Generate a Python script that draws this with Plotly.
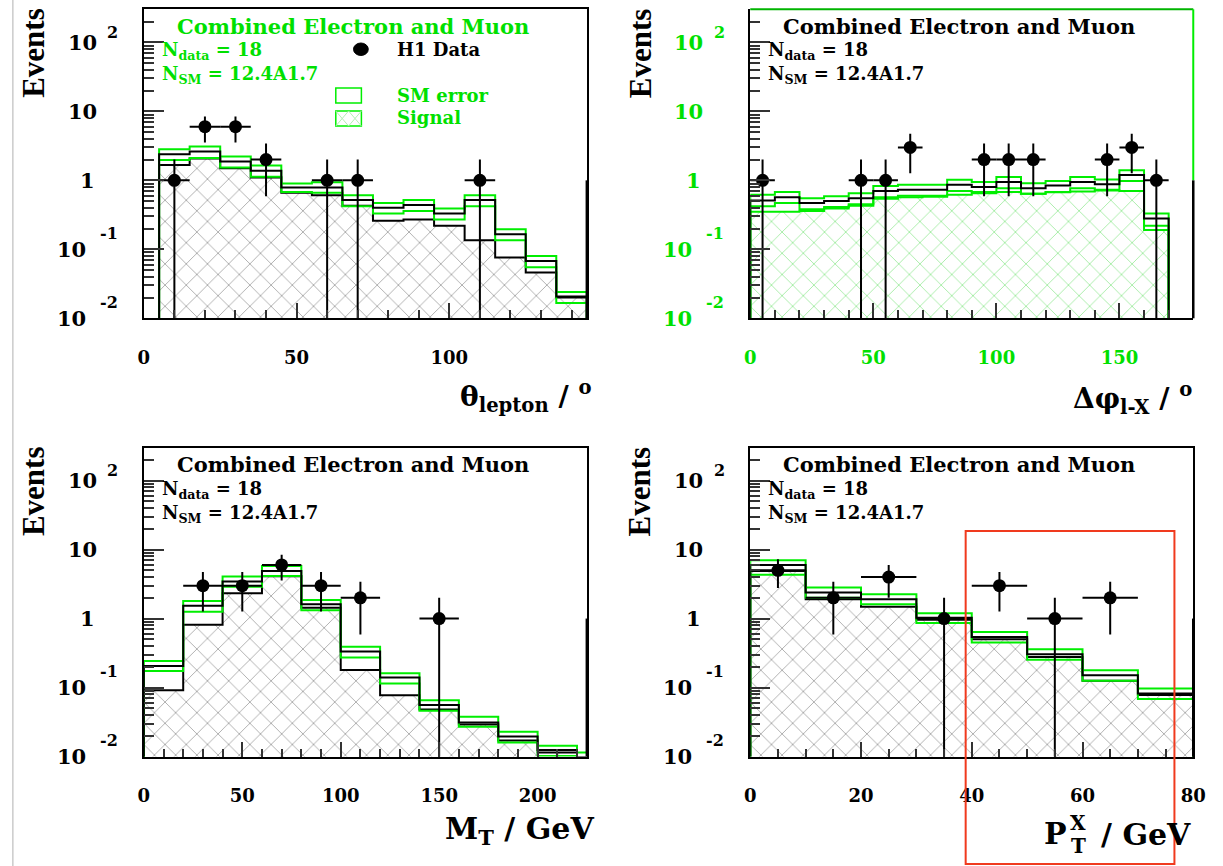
import numpy as np
import plotly.graph_objects as go

W, H = 1223, 866
YMIN, YMAX = -2.0, 2.48
FLOOR = 10 ** (YMIN - 1)

# ---------------- data ----------------
# theta_lepton panel
theta_edges = [5, 15, 25, 35, 45, 55, 65, 75, 85, 95, 105, 115, 125, 135, 145]
theta_sm = [2.39, 2.61, 1.87, 1.38, 0.79, 0.79, 0.52, 0.40, 0.44, 0.33, 0.52, 0.165, 0.068, 0.0207]
theta_up = [2.83, 3.09, 2.21, 1.64, 0.90, 0.94, 0.61, 0.47, 0.52, 0.39, 0.61, 0.195, 0.080, 0.024]
theta_dn = [1.98, 2.11, 1.53, 1.13, 0.68, 0.66, 0.42, 0.33, 0.36, 0.27, 0.42, 0.135, 0.055, 0.0167]
theta_sig = [1.67, 2.07, 1.50, 1.10, 0.66, 0.61, 0.43, 0.26, 0.27, 0.22, 0.135, 0.076, 0.046, 0.020]
theta_data_x = [10, 20, 30, 40, 60, 70, 110]
theta_data_n = [1, 6, 6, 2, 1, 1, 1]

# delta phi panel
dphi_edges = [0, 10, 20, 30, 40, 50, 60, 70, 80, 90, 100, 110, 120, 130, 140, 150, 160, 170, 180]
dphi_sm = [0.51, 0.57, 0.47, 0.50, 0.55, 0.70, 0.73, 0.73, 0.86, 0.80, 0.95, 0.77, 0.84, 0.95, 0.88, 1.20, 0.28, 0]
dphi_up = [0.62, 0.68, 0.55, 0.59, 0.65, 0.83, 0.86, 0.86, 1.02, 0.95, 1.12, 0.91, 0.98, 1.12, 1.03, 1.40, 0.33, 0]
dphi_dn = [0.42, 0.47, 0.38, 0.41, 0.45, 0.57, 0.60, 0.60, 0.70, 0.68, 0.77, 0.64, 0.68, 0.77, 0.73, 0.98, 0.22, 0]
dphi_sig = [0.35, 0.35, 0.36, 0.39, 0.43, 0.54, 0.57, 0.58, 0.62, 0.65, 0.68, 0.64, 0.67, 0.69, 0.71, 0.70, 0.19, 0]
dphi_data_x = [5, 45, 55, 65, 95, 105, 115, 145, 155, 165]
dphi_data_n = [1, 1, 1, 3, 2, 2, 2, 2, 3, 1]

# M_T panel
mt_edges = [0, 20, 40, 60, 80, 100, 120, 140, 160, 180, 200, 220, 240]
mt_sm = [0.206, 1.53, 3.44, 4.91, 1.61, 0.333, 0.140, 0.056, 0.031, 0.0195, 0.0124, 0.0098]
mt_up = [0.243, 1.80, 4.06, 5.80, 1.86, 0.389, 0.161, 0.0655, 0.0376, 0.0228, 0.0143, 0.0114]
mt_dn = [0.174, 1.26, 2.88, 4.15, 1.32, 0.272, 0.114, 0.046, 0.027, 0.016, 0.0102, 0.0085]
mt_sig = [0.091, 0.81, 2.33, 4.10, 1.44, 0.180, 0.077, 0.048, 0.029, 0.017, 0.0114, 0.009]
mt_data_x = [30, 50, 70, 90, 110, 150]
mt_data_n = [3, 3, 6, 3, 2, 1]

# P_T^X panel
ptx_edges = [0, 10, 20, 30, 40, 50, 60, 70, 80]
ptx_sm = [6.0, 2.38, 1.91, 1.03, 0.54, 0.304, 0.151, 0.082]
ptx_up = [7.0, 2.81, 2.25, 1.19, 0.64, 0.36, 0.178, 0.097]
ptx_dn = [4.3, 2.01, 1.61, 0.86, 0.45, 0.252, 0.125, 0.068]
ptx_sig = [4.9, 1.91, 1.48, 0.96, 0.50, 0.278, 0.125, 0.078]
ptx_data_x = [5, 15, 25, 35, 45, 55, 65]
ptx_data_n = [5, 2, 4, 1, 3, 1, 2]

title_text = "Combined Electron and Muon"
ndata_text = "N<sub>data</sub> = 18"
nsm_text = "N<sub>SM</sub> = 12.4A1.7"
ytitle = "Events"
y_decades = [-2, -1, 0, 1, 2]

# ---------------- style ----------------
GREEN = "#00ee00"
GREEN_TXT = "#00e000"
FONT = "DejaVu Serif"

panels = [
    dict(edges=theta_edges, sm=theta_sm, up=theta_up, dn=theta_dn, sig=theta_sig,
         dx=theta_data_x, dn_=theta_data_n, xr=[0, 145], dt=50, mdt=10,
         frame=(140, 590, 9.3, 318.3), txtcol=GREEN_TXT, labcol="black",
         hatch="#9a9a9a", sigline="black",
         xtitle="θ<sub>lepton</sub> / <sup>o</sup>", xt_pos=(596, 396), xt_size=28),
    dict(edges=dphi_edges, sm=dphi_sm, up=dphi_up, dn=dphi_dn, sig=dphi_sig,
         dx=dphi_data_x, dn_=dphi_data_n, xr=[0, 180], dt=50, mdt=10,
         frame=(756, 1206, 9.3, 318.3), txtcol="black", labcol=GREEN_TXT,
         hatch="#93e893", sigline=GREEN,
         xtitle="Δφ<sub>l-X</sub> / <sup>o</sup>", xt_pos=(1207, 398), xt_size=28),
    dict(edges=mt_edges, sm=mt_sm, up=mt_up, dn=mt_dn, sig=mt_sig,
         dx=mt_data_x, dn_=mt_data_n, xr=[0, 225], dt=50, mdt=10,
         frame=(140, 590, 447.5, 756.5), txtcol="black", labcol="black",
         hatch="#9a9a9a", sigline="black",
         xtitle="M<sub>T</sub> / GeV", xt_pos=(599, 830), xt_size=30),
    dict(edges=ptx_edges, sm=ptx_sm, up=ptx_up, dn=ptx_dn, sig=ptx_sig,
         dx=ptx_data_x, dn_=ptx_data_n, xr=[0, 80], dt=20, mdt=5,
         frame=(756, 1206, 447.5, 756.5), txtcol="black", labcol="black",
         hatch="#9a9a9a", sigline="black",
         xtitle=None, xt_pos=(1206, 834), xt_size=30),
]


def fx(px):
    return px / W


def fy(py):
    return 1 - py / H


def step_xy(edges, vals):
    v = [max(float(a), FLOOR) for a in vals]
    xs = [edges[0]] + list(edges[:-1]) + [edges[-1]]
    ys = [FLOOR] + v + [FLOOR]
    return xs, ys


fig = go.Figure()
annotations = []
shapes = []


def ann(text, px, py, size, color="black", xanchor="center", yanchor="middle",
        family=FONT, angle=0, weight="bold"):
    annotations.append(dict(text=text, x=fx(px), y=fy(py), xref="paper", yref="paper",
                            xanchor=xanchor, yanchor=yanchor, showarrow=False,
                            textangle=angle,
                            font=dict(family=family, size=size, color=color, weight=weight)))


layout_axes = {}
for i, p in enumerate(panels, start=1):
    L, R, T, B = p["frame"]
    xs_name = "x" if i == 1 else f"x{i}"
    ys_name = "y" if i == 1 else f"y{i}"
    xkey = "xaxis" if i == 1 else f"xaxis{i}"
    ykey = "yaxis" if i == 1 else f"yaxis{i}"
    edges = np.array(p["edges"], dtype=float)
    centers = (edges[:-1] + edges[1:]) / 2
    widths = np.diff(edges)

    # hatched signal
    fig.add_trace(go.Bar(x=centers, y=p["sig"], width=widths, xaxis=xs_name, yaxis=ys_name,
                         marker=dict(color="white", line=dict(width=0),
                                     pattern=dict(shape="x", size=15, solidity=0.1,
                                                  fgcolor=p["hatch"], bgcolor="white",
                                                  fillmode="replace")),
                         showlegend=False, hoverinfo="skip"))
    for vals, col in [(p["sig"], p["sigline"]), (p["up"], GREEN), (p["dn"], GREEN), (p["sm"], "black")]:
        sx, sy = step_xy(p["edges"], vals)
        fig.add_trace(go.Scatter(x=sx, y=sy, mode="lines", line=dict(color=col, width=2, shape="hv"),
                                 xaxis=xs_name, yaxis=ys_name, showlegend=False, hoverinfo="skip"))
    n = np.array(p["dn_"], dtype=float)
    half = np.full(len(n), widths[0] / 2)
    fig.add_trace(go.Scatter(x=p["dx"], y=n, mode="markers", xaxis=xs_name, yaxis=ys_name,
                             marker=dict(color="black", size=13),
                             error_y=dict(type="data", array=np.sqrt(n), arrayminus=np.sqrt(n),
                                          thickness=2, width=0, color="black"),
                             error_x=dict(type="data", array=half, arrayminus=half,
                                          thickness=2, width=0, color="black"),
                             showlegend=False, hoverinfo="skip"))

    layout_axes[xkey] = dict(domain=[fx(L), fx(R)], range=p["xr"], anchor=ys_name,
                             showline=True, linecolor="black", linewidth=2, mirror=(i != 2),
                             ticks="inside", ticklen=15, tickwidth=1.5, tickcolor="#333",
                             tick0=0, dtick=p["dt"],
                             minor=dict(ticks="inside", ticklen=8, dtick=p["mdt"], tick0=0,
                                        tickcolor="#333", tickwidth=1.5, showgrid=False),
                             showgrid=False, zeroline=False, ticklabelstandoff=22,
                             tickfont=dict(family=FONT, size=18, color=p["labcol"], weight="bold"))
    layout_axes[ykey] = dict(domain=[fy(B), fy(T)], type="log", range=[YMIN, YMAX], anchor=xs_name,
                             showline=True, linecolor="black", linewidth=2, mirror=(i != 2),
                             ticks="inside", ticklen=20, tickwidth=1.5, tickcolor="#333", dtick=1,
                             minor=dict(ticks="inside", ticklen=10, dtick="D1", tickcolor="#333",
                                        tickwidth=1.5, showgrid=False),
                             showgrid=False, zeroline=False, showticklabels=False)

    pxdec = (B - T) / (YMAX - YMIN)
    y_one = T + YMAX * pxdec
    # frame colour quirks and right-edge segment
    if i == 2:
        shapes.append(dict(type="line", xref="paper", yref="paper", x0=fx(L), x1=fx(R), y0=fy(T), y1=fy(T),
                           line=dict(color="#00b400", width=2)))
        shapes.append(dict(type="line", xref="paper", yref="paper", x0=fx(R), x1=fx(R), y0=fy(T), y1=fy(y_one),
                           line=dict(color=GREEN, width=2)))
    shapes.append(dict(type="line", xref="paper", yref="paper", x0=fx(R), x1=fx(R),
                       y0=fy(B), y1=fy(y_one), line=dict(color="black", width=2.5)))

    # y tick labels
    for d in y_decades:
        py = T + (YMAX - d) * pxdec
        if d == 0:
            ann("1", L - 48, py, 21, p["labcol"], xanchor="right")
        elif d > 0:
            ann("10", L - 46, py, 21, p["labcol"], xanchor="right")
            if d == 2:
                ann("2", L - 39, py - 10, 16, p["labcol"], xanchor="left")
        else:
            ann("10", L - 57, py, 21, p["labcol"], xanchor="right")
            ann(str(d), L - 47, py - 16, 16, p["labcol"], xanchor="left")

    # titles
    ann(ytitle, L - 112, T + 44, 31, "black", family="Liberation Serif", angle=-90)
    ann(title_text, L + 212, T + 17, 21, p["txtcol"])
    ann(ndata_text, L + 16, T + 42, 18, p["txtcol"], xanchor="left")
    ann(nsm_text, L + 16, T + 66, 18, p["txtcol"], xanchor="left")
    if p["xtitle"]:
        xt, yt = p["xt_pos"]
        ann(p["xtitle"], xt, yt, p["xt_size"], "black", xanchor="right")

# P_T^X / GeV title built from pieces (stacked super/subscript)
ann("P", 1052, 833, 30, "black", xanchor="left")
ann("X", 1089, 823, 20, "black")
ann("T", 1089, 846, 20, "black")
ann("/ GeV", 1206, 834, 30, "black", xanchor="right")

# legend in first panel
shapes.append(dict(type="circle", xref="paper", yref="paper", x0=fx(353), x1=fx(368), y0=fy(55.5), y1=fy(43),
                   fillcolor="black", line=dict(color="black", width=1)))
ann("H1 Data", 395, 49, 18, "black", xanchor="left")
shapes.append(dict(type="rect", xref="paper", yref="paper", x0=fx(335), x1=fx(361), y0=fy(103), y1=fy(88),
                   fillcolor="white", line=dict(color=GREEN, width=1.5)))
ann("SM error", 395, 96, 18, GREEN_TXT, xanchor="left")
shapes.append(dict(type="rect", xref="paper", yref="paper", x0=fx(335), x1=fx(361), y0=fy(126), y1=fy(111),
                   fillcolor="white", line=dict(color=GREEN, width=1.5)))
shapes.append(dict(type="path", xref="paper", yref="paper",
                   path=f"M {fx(335)} {fy(111)} L {fx(348)} {fy(126)} L {fx(361)} {fy(111)} "
                        f"M {fx(335)} {fy(126)} L {fx(348)} {fy(111)} L {fx(361)} {fy(126)}",
                   line=dict(color="#b5f0b5", width=1)))
ann("Signal", 395, 118, 18, GREEN_TXT, xanchor="left")

# red highlight box in the P_T^X panel
shapes.append(dict(type="rect", xref="x4", yref="paper", x0=38.9, x1=76.6, y0=fy(864), y1=fy(531),
                   line=dict(color="#f03a1e", width=2), fillcolor="rgba(0,0,0,0)"))
# thin grey border line at the left of the picture
shapes.append(dict(type="line", xref="paper", yref="paper", x0=fx(7), x1=fx(7), y0=0, y1=1,
                   line=dict(color="#b0b0b0", width=1)))

fig.update_layout(width=W, height=H, margin=dict(l=0, r=0, t=0, b=0),
                  paper_bgcolor="white", plot_bgcolor="white",
                  annotations=annotations, shapes=shapes, bargap=0, **layout_axes)

fig.write_html("out.html")
